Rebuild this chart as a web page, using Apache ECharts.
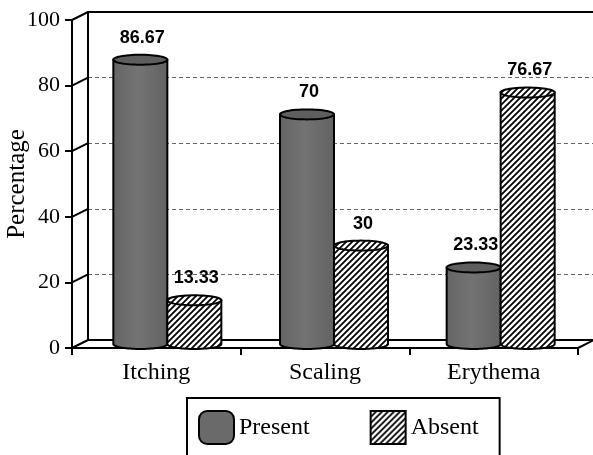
<!DOCTYPE html>
<html>
<head>
<meta charset="utf-8">
<script src="https://cdn.jsdelivr.net/npm/echarts@6/dist/echarts.min.js"></script>
<style>
  html, body { margin: 0; padding: 0; background: #fff; }
  #chart { width: 593px; height: 455px; }
</style>
</head>
<body>
<div id="chart"></div>
<script>
// Chart data
const categories = ['Itching', 'Scaling', 'Erythema'];
const presentValues = [86.67, 70, 23.33];
const absentValues = [13.33, 30, 76.67];
const yTicks = [0, 20, 40, 60, 80, 100];
const seriesNames = ['Present', 'Absent'];

// Depth offset of the pseudo-3D frame (back wall relative to front edge)
const DX = 16, DY = -8;
const SERIF = '"Liberation Serif", "Times New Roman", serif';
const SANS = '"Liberation Sans", Arial, sans-serif';

// Diagonal hatch tile used for the "Absent" cylinders
function makeHatch() {
  const s = 6;
  const c = document.createElement('canvas');
  c.width = s; c.height = s;
  const g = c.getContext('2d');
  g.fillStyle = '#ffffff';
  g.fillRect(0, 0, s, s);
  g.strokeStyle = '#000000';
  g.lineWidth = 1.8;
  g.beginPath();
  g.moveTo(0, s); g.lineTo(s, 0);
  g.moveTo(-1, 1); g.lineTo(1, -1);
  g.moveTo(s - 1, s + 1); g.lineTo(s + 1, s - 1);
  g.stroke();
  return c;
}
const hatch = { image: makeHatch(), repeat: 'repeat' };

const grayBody = {
  type: 'linear', x: 0, y: 0, x2: 1, y2: 0,
  colorStops: [
    { offset: 0, color: '#646464' },
    { offset: 0.45, color: '#737373' },
    { offset: 1, color: '#626262' }
  ]
};
const grayTop = '#5e5e5e';

function ellipseArc(cx, cy, rx, ry, a0, a1, n) {
  const pts = [];
  for (let i = 0; i <= n; i++) {
    const t = a0 + (a1 - a0) * i / n;
    pts.push([cx + rx * Math.cos(t), cy + ry * Math.sin(t)]);
  }
  return pts;
}

// Cylinder renderer; side = -1 draws left of the category centre, +1 right
function cylinder(side, bodyFill, topFill) {
  return function (params, api) {
    const cat = api.value(0);
    const val = api.value(1);
    const band = api.size([1, 0])[0];
    const rx = band * 0.162;
    const ry = 5;
    const top = api.coord([cat, val]);
    const base = api.coord([cat, 0]);
    const cx = top[0] + side * rx;
    const yt = top[1], yb = base[1];
    const body = [[cx - rx, yt]]
      .concat(ellipseArc(cx, yb, rx, ry, Math.PI, 0, 40))
      .concat([[cx + rx, yt]]);
    const lid = ellipseArc(cx, yt, rx, ry, 0, Math.PI * 2, 60);
    return {
      type: 'group',
      children: [
        { type: 'polygon', shape: { points: body },
          style: { fill: bodyFill, stroke: '#000', lineWidth: 2 } },
        { type: 'polygon', shape: { points: lid },
          style: { fill: topFill, stroke: '#000', lineWidth: 2 } },
        { type: 'text', x: cx + 2, y: yt - 22,
          style: { text: String(val), font: 'bold 18px ' + SANS, fill: '#000',
                   align: 'center', verticalAlign: 'middle' } }
      ]
    };
  };
}

// Short diagonal edges joining the front axis to the back wall
function wallEdges(params, api) {
  const cs = params.coordSys;
  const v = api.value(1);
  const y = api.coord([0, v])[1];
  const line = (x) => ({
    type: 'line',
    shape: { x1: x, y1: y, x2: x + DX, y2: y + DY },
    style: { stroke: '#000', lineWidth: 2 }
  });
  const children = [line(cs.x)];
  if (v === 0) children.push(line(cs.x + cs.width));
  return { type: 'group', children: children };
}

const chart = echarts.init(document.getElementById('chart'), null, { renderer: 'canvas' });

chart.setOption({
  animation: false,
  backgroundColor: '#ffffff',
  grid: [
    // front edge: axis labels and ticks
    { left: 72, top: 20, width: 506, height: 328, outerBoundsMode: 'none', containLabel: false },
    // back wall
    { left: 72 + DX, top: 20 + DY, right: 0, height: 328, outerBoundsMode: 'none', containLabel: false },
    // mid depth: cylinders
    { left: 84, top: 16, width: 500, height: 328, outerBoundsMode: 'none', containLabel: false }
  ],
  xAxis: [
    {
      gridIndex: 0, type: 'category', data: categories,
      axisLine: { lineStyle: { color: '#000', width: 2 } },
      axisTick: { show: true, length: 7, lineStyle: { color: '#000', width: 2 } },
      axisLabel: { color: '#000', fontFamily: SERIF, fontSize: 24, margin: 13 },
      splitLine: { show: false }
    },
    {
      gridIndex: 1, type: 'category', data: categories, position: 'bottom',
      axisLine: { lineStyle: { color: '#000', width: 2 } },
      axisTick: { show: false }, axisLabel: { show: false }, splitLine: { show: false }
    },
    {
      gridIndex: 1, type: 'category', data: categories, position: 'top',
      axisLine: { lineStyle: { color: '#000', width: 2 } },
      axisTick: { show: false }, axisLabel: { show: false }, splitLine: { show: false }
    },
    { gridIndex: 2, type: 'category', data: categories, show: false }
  ],
  yAxis: [
    {
      gridIndex: 0, type: 'value', min: 0, max: 100, interval: 20,
      name: 'Percentage', nameLocation: 'middle', nameGap: 42, nameMoveOverlap: false,
      nameTextStyle: { color: '#000', fontFamily: SERIF, fontSize: 25 },
      axisLine: { show: true, lineStyle: { color: '#000', width: 2 } },
      axisTick: { show: true, length: 7, lineStyle: { color: '#000', width: 2 } },
      axisLabel: { color: '#000', fontFamily: SERIF, fontSize: 22, margin: 12 },
      splitLine: { show: false }
    },
    {
      gridIndex: 1, type: 'value', min: 0, max: 100, interval: 20,
      axisLine: { show: true, lineStyle: { color: '#000', width: 2 } },
      axisTick: { show: false }, axisLabel: { show: false },
      splitLine: { show: true, lineStyle: { color: '#666', width: 1, type: [4, 3] } }
    },
    { gridIndex: 2, type: 'value', min: 0, max: 100, show: false }
  ],
  legend: {
    left: 187, top: 398,
    orient: 'horizontal',
    padding: [12, 21, 20, 11],
    itemGap: 60,
    itemWidth: 35, itemHeight: 33,
    borderColor: '#000', borderWidth: 2,
    textStyle: { color: '#000', fontFamily: SERIF, fontSize: 24 },
    data: [
      { name: seriesNames[0], icon: 'roundRect',
        itemStyle: { color: '#6a6a6a', borderColor: '#000', borderWidth: 2 } },
      { name: seriesNames[1], icon: 'rect',
        itemStyle: { color: hatch, borderColor: '#000', borderWidth: 2 } }
    ]
  },
  series: [
    {
      type: 'custom', name: 'wall', xAxisIndex: 0, yAxisIndex: 0,
      renderItem: wallEdges, silent: true, z: 1,
      data: yTicks.map(v => [0, v])
    },
    {
      type: 'custom', name: seriesNames[0], xAxisIndex: 3, yAxisIndex: 2,
      itemStyle: { color: '#6a6a6a' },
      renderItem: cylinder(-1, grayBody, grayTop), z: 5,
      encode: { x: 0, y: 1 },
      data: presentValues.map((v, i) => [i, v])
    },
    {
      type: 'custom', name: seriesNames[1], xAxisIndex: 3, yAxisIndex: 2,
      itemStyle: { color: hatch },
      renderItem: cylinder(1, hatch, hatch), z: 5,
      encode: { x: 0, y: 1 },
      data: absentValues.map((v, i) => [i, v])
    }
  ]
});
</script>
</body>
</html>
